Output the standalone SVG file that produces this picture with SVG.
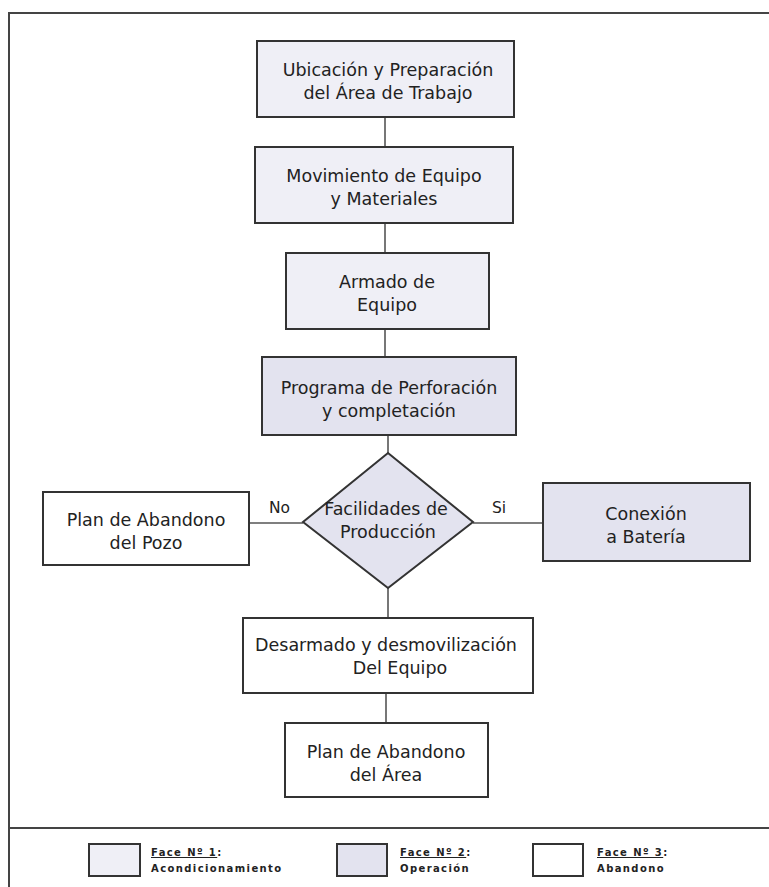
<svg xmlns="http://www.w3.org/2000/svg" width="769" height="887" viewBox="0 0 769 887">
<style>
.bx{stroke:#333;stroke-width:2}
.p1{fill:#efeff6}
.p2{fill:#e3e3ef}
.p3{fill:#ffffff}
.t{font-family:"DejaVu Sans","Liberation Sans",sans-serif;font-size:17.5px;fill:#222;text-anchor:middle}
.lb{font-family:"DejaVu Sans","Liberation Sans",sans-serif;font-size:15.5px;fill:#222}
.lg{font-family:"DejaVu Sans","Liberation Sans",sans-serif;font-size:10px;font-weight:bold;fill:#222;letter-spacing:1.4px}
.cn{stroke:#555;stroke-width:1.6;fill:none}
.fr{stroke:#444;stroke-width:2;fill:none}
</style>
<rect width="769" height="887" fill="#fff"/>
<g id="frame">
<path class="fr" d="M769,13 H9 V887"/>
<path class="fr" d="M9,828 H769"/>
</g>
<g id="connectors">
<path class="cn" d="M385,117 V147"/>
<path class="cn" d="M385,223 V253"/>
<path class="cn" d="M385,329 V357"/>
<path class="cn" d="M388,435 V453"/>
<path class="cn" d="M388,588 V618"/>
<path class="cn" d="M386,693 V723"/>
<path class="cn" d="M249,523 H303"/>
<path class="cn" d="M473,523 H543"/>
<text class="lb" x="269" y="513">No</text>
<text class="lb" x="492" y="513">Si</text>
</g>
<g id="n1">
<rect class="bx p1" x="257" y="41" width="257" height="76"/>
<text class="t" x="388" y="76">Ubicación y Preparación</text>
<text class="t" x="388" y="99">del Área de Trabajo</text>
</g>
<g id="n2">
<rect class="bx p1" x="255" y="147" width="258" height="76"/>
<text class="t" x="384" y="182">Movimiento de Equipo</text>
<text class="t" x="384" y="205">y Materiales</text>
</g>
<g id="n3">
<rect class="bx p1" x="286" y="253" width="203" height="76"/>
<text class="t" x="387" y="288">Armado de</text>
<text class="t" x="387" y="311">Equipo</text>
</g>
<g id="n4">
<rect class="bx p2" x="262" y="357" width="254" height="78"/>
<text class="t" x="389" y="394">Programa de  Perforación</text>
<text class="t" x="389" y="417">y completación</text>
</g>
<g id="n5">
<polygon class="bx p2" points="388,453 473,522 388,588 303,522"/>
<text class="t" x="386" y="515">Facilidades de</text>
<text class="t" x="388" y="538">Producción</text>
</g>
<g id="n6">
<rect class="bx p3" x="43" y="492" width="206" height="73"/>
<text class="t" x="146" y="526">Plan de Abandono</text>
<text class="t" x="146" y="549">del Pozo</text>
</g>
<g id="n7">
<rect class="bx p2" x="543" y="483" width="207" height="78"/>
<text class="t" x="646" y="520">Conexión</text>
<text class="t" x="646" y="543">a Batería</text>
</g>
<g id="n8">
<rect class="bx p3" x="243" y="618" width="290" height="75"/>
<text class="t" x="386" y="651">Desarmado y desmovilización</text>
<text class="t" x="400" y="674">Del Equipo</text>
</g>
<g id="n9">
<rect class="bx p3" x="285" y="723" width="203" height="74"/>
<text class="t" x="386" y="758">Plan de Abandono</text>
<text class="t" x="386" y="781">del  Área</text>
</g>
<g id="legend">
<rect class="bx p1" x="89" y="844" width="51" height="32"/>
<text class="lg" x="151" y="856"><tspan text-decoration="underline">Face Nº 1</tspan>:</text>
<text class="lg" x="151" y="872">Acondicionamiento</text>
<rect class="bx p2" x="337" y="844" width="50" height="32"/>
<text class="lg" x="400" y="856"><tspan text-decoration="underline">Face Nº 2</tspan>:</text>
<text class="lg" x="400" y="872">Operación</text>
<rect class="bx p3" x="533" y="844" width="50" height="32"/>
<text class="lg" x="597" y="856"><tspan text-decoration="underline">Face Nº 3</tspan>:</text>
<text class="lg" x="597" y="872">Abandono</text>
</g>
</svg>
